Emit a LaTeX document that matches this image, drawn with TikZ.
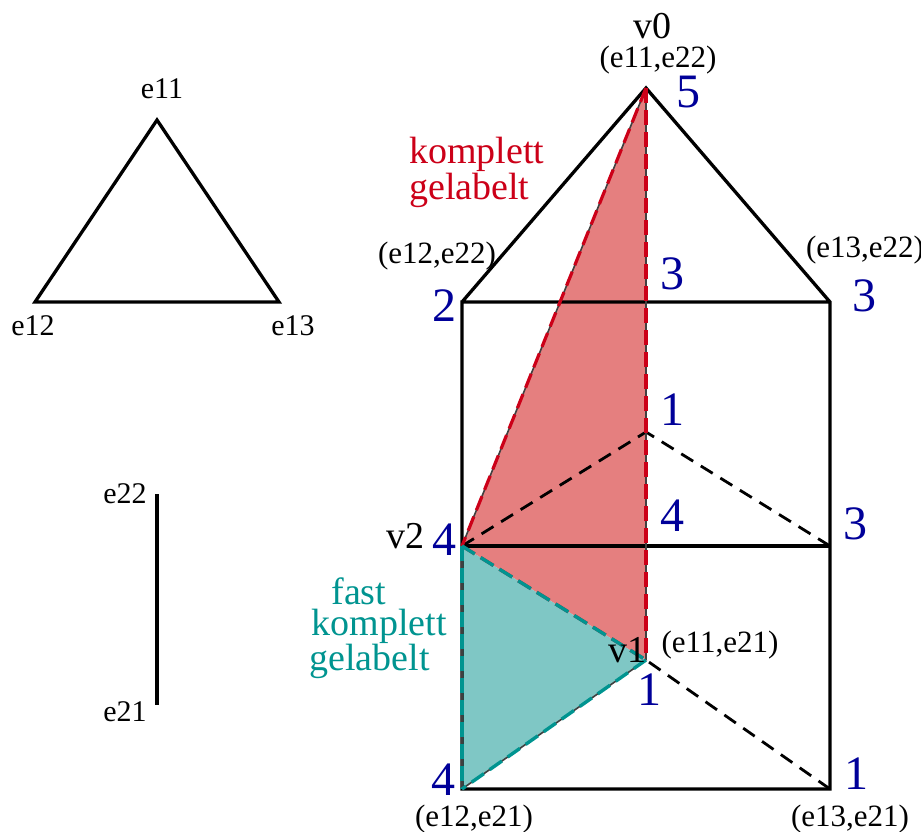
\documentclass[tikz,border=0pt]{standalone}
\usepackage{fontspec}
\setmainfont{Liberation Serif}
\definecolor{redfill}{HTML}{E57F7F}
\definecolor{tealfill}{HTML}{7FC7C5}
\definecolor{redline}{HTML}{CC0018}
\definecolor{tealline}{HTML}{009490}
\definecolor{numblue}{HTML}{000099}
\tikzset{
 solidedge/.style={draw=black,line width=3.3pt,line join=miter},
 backedge/.style={draw=black,line width=2.8pt,dash pattern=on 14pt off 9pt},
 rededge/.style={draw=redline,line width=3.2pt,dash pattern=on 15pt off 7pt},
 tealedge/.style={draw=tealline,line width=3.4pt,dash pattern=on 15pt off 7pt},
 thinedge/.style={draw=black!75,line width=1.6pt},
 lab/.style={inner sep=0pt,font=\fontsize{30}{30}\selectfont},
 wide/.style={inner sep=0pt,font=\fontsize{31}{31}\selectfont},
 vlab/.style={inner sep=0pt,font=\fontsize{38}{38}\selectfont},
 num/.style={inner sep=0pt,text=numblue,font=\fontsize{48}{48}\selectfont},
 redtxt/.style={inner sep=0pt,text=redline,align=left,font=\fontsize{38}{32}\selectfont},
 tealtxt/.style={inner sep=0pt,text=tealline,align=left,font=\fontsize{38}{31}\selectfont},
}
\begin{document}
\begin{tikzpicture}[x=1pt,y=-1pt]
\useasboundingbox (0,0) rectangle (921,832);
% coordinates
\coordinate (A) at (157,120);
\coordinate (B) at (35,302);
\coordinate (C) at (279,302);
\coordinate (E2) at (157,494);
\coordinate (E1) at (157,705);
\coordinate (V0) at (646,88);
\coordinate (T2) at (462,302);
\coordinate (T3) at (830,302);
\coordinate (M1) at (646,432);
\coordinate (M2) at (462,546);
\coordinate (M3) at (830,546);
\coordinate (L1) at (646,660);
\coordinate (L2) at (462,789);
\coordinate (L3) at (830,789);
% fills
\fill[redfill] (V0) -- (M2) -- (L1) -- cycle;
\fill[tealfill] (M2) -- (L1) -- (L2) -- cycle;
% small triangle and segment
\draw[solidedge] (A) -- (B) -- (C) -- cycle;
\draw[solidedge] (E2) -- (E1);
% prism
\draw[solidedge] (T2) -- (V0) -- (T3) -- (L3) -- (L2) -- (T2) -- (T3);
\draw[solidedge] (M2) -- (M3);
\draw[backedge] (M2) -- (M1);
\draw[backedge] (M3) -- (M1);
\draw[backedge] (L3) -- (L1);
\draw[thinedge] (V0) -- (L1);
\draw[thinedge] (M2) -- (V0);
\draw[thinedge] (M2) -- (L2);
\draw[thinedge] (L1) -- (L2);
% coloured edges
\draw[rededge] (V0) -- (M2);
\draw[rededge] (V0) -- (L1);
\draw[rededge] (M2) -- (L1);
\draw[tealedge] (M2) -- (L1);
\draw[tealedge] (L1) -- (L2);
\draw[tealedge] (M2) -- (L2);
% labels
\node[lab] (le11) at (162,89) {e11};
\node[lab] (le12) at (33,326) {e12};
\node[lab] (le13) at (293,326) {e13};
\node[lab] (le22) at (125,494) {e22};
\node[lab] (le21) at (125,712) {e21};
\node[vlab] (lv0) at (652,26) {v0};
\node[vlab] (lv2) at (405,536) {v2};
\node[vlab] (lv1) at (627,650) {v1};
\node[wide] (p1) at (658,60) {(e11,e22)};
\node[wide] (p2) at (437,256) {(e12,e22)};
\node[wide] (p3) at (865,250) {(e13,e22)};
\node[wide] (p4) at (720,645) {(e11,e21)};
\node[wide] (p5) at (474,819) {(e12,e21)};
\node[wide] (p6) at (850,819) {(e13,e21)};
\node[num] (n5) at (688,92) {5};
\node[num] (n2) at (444,306) {2};
\node[num] (n3a) at (672,274) {3};
\node[num] (n3b) at (864,296) {3};
\node[num] (n1a) at (672,410) {1};
\node[num] (n4a) at (672,516) {4};
\node[num] (n3c) at (855,524) {3};
\node[num] (n4b) at (444,540) {4};
\node[num] (n1b) at (649,690) {1};
\node[num] (n4c) at (443,780) {4};
\node[num] (n1c) at (856,774) {1};
\node[redtxt,anchor=north west] (kg) at (409,137) {komplett\\gelabelt};
\node[tealtxt] (fk) at (378,628) {\hspace{22pt}fast\\\hspace{2pt}komplett\\gelabelt};
\end{tikzpicture}
\end{document}
